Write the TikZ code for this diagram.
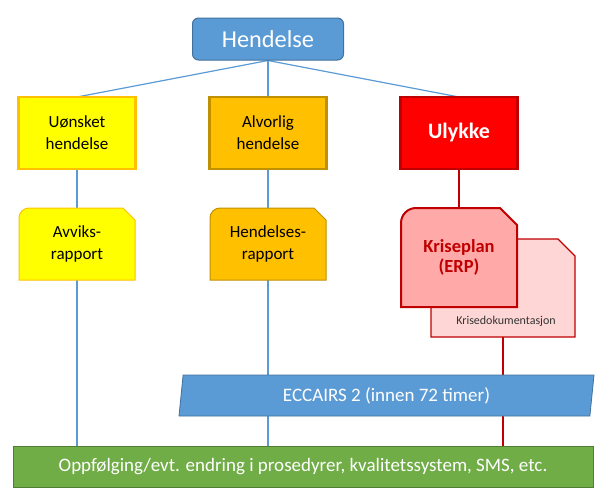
\documentclass[tikz,border=0pt]{standalone}
\usepackage{fontspec}
\setmainfont{Carlito}
\usetikzlibrary{calc,shapes.geometric}
\definecolor{hblue}{HTML}{5B9BD5}
\definecolor{hbluedark}{HTML}{41719C}
\definecolor{gul}{HTML}{FFFF00}
\definecolor{oransje}{HTML}{FFC000}
\definecolor{gull}{HTML}{BF9000}
\definecolor{rod}{HTML}{FF0000}
\definecolor{mork}{HTML}{C00000}
\definecolor{rosa}{HTML}{FFA9A9}
\definecolor{lysrosa}{HTML}{FFD6D6}
\definecolor{gronn}{HTML}{70AD47}
\definecolor{gronnmork}{HTML}{507E32}
\pgfdeclarelayer{bg}
\pgfdeclarelayer{shapes}
\pgfsetlayers{bg,shapes,main}
\def\docshape[#1](#2)(#3:#4){\draw[#1] ([yshift=-#3pt]#2.north west) arc (180:90:#3pt) -- ([xshift=-#4pt]#2.north east) -- ([yshift=-#4pt]#2.north east) -- (#2.south east) -- (#2.south west) -- cycle;}
\tikzset{
  box/.style={rectangle, minimum width=117pt, minimum height=72pt, align=center, inner sep=0pt, outer sep=0pt, font=\fontsize{17}{22}\selectfont},
  doc/.style={rectangle, minimum width=116pt, minimum height=72pt, align=center, inner sep=0pt, outer sep=0pt, font=\fontsize{17}{22}\selectfont},
  link/.style={line width=1.2pt, color=hblue},
  redlink/.style={line width=2.4pt, color=mork},
}

\begin{document}
\begin{tikzpicture}[x=1pt,y=1pt]
			\useasboundingbox (0,0) rectangle (603,-496);
			%%%%% START %%%%%
			
			\node[rectangle, rounded corners=6pt, fill=hblue, draw=hbluedark, line width=1pt, minimum width=151pt, minimum height=42pt, inner sep=0pt, text=white, font=\fontsize{24.3}{29}\selectfont] (hendelse) at (268,-39) {Hendelse};
			
			\node[box, fill=gul, draw=oransje, line width=2.5pt] (uonsket) at (77,-133) {Uønsket\\hendelse};
			\node[box, fill=oransje, draw=gull, line width=2.5pt] (alvorlig) at (268,-133) {Alvorlig\\hendelse};
			\node[box, fill=rod, draw=mork, line width=2.5pt, text=white, font=\fontsize{22}{26}\selectfont\bfseries] (ulykke) at (459,-133) {Ulykke};
			
			\node[doc] (avviks) at (77,-244) {Avviks-\\rapport};
			\node[doc] (hendelses) at (268,-244) {Hendelses-\\rapport};
			\node[doc, minimum width=144pt, minimum height=98pt, label={[font=\fontsize{12}{14}\selectfont, text=black!80, anchor=center, xshift=3pt, yshift=16pt]south:Krisedokumentasjon}] (krisedok) at (503,-288) {};
			\node[doc, minimum height=99pt, text=mork, font=\fontsize{18.5}{23}\selectfont\bfseries] (kriseplan) at (459,-257.5) {\raisebox{-2.5pt}{\shortstack{Kriseplan\\[1pt](ERP)}}};
			
			\node[trapezium, trapezium left angle=76, trapezium right angle=104, trapezium stretches body, minimum width=415pt, minimum height=41pt, inner sep=0pt, fill=hblue, draw=hbluedark, line width=0.8pt, text=white, font=\fontsize{19}{23}\selectfont] (eccairs) at (386.5,-395.5) {ECCAIRS 2 (innen 72 timer)};
			
			\node[rectangle, minimum width=580pt, minimum height=41pt, inner sep=0pt, fill=gronn, draw=gronnmork, line width=0.8pt, text=white, font=\fontsize{19}{23}\selectfont] (oppf) at (303,-466.5) {Oppfølging/evt. endring i prosedyrer, kvalitetssystem, SMS, etc.};
			
			\begin{pgfonlayer}{shapes}
			\docshape[fill=gul, draw=oransje, line width=1pt](avviks)(10:12)
			\docshape[fill=oransje, draw=gull, line width=1pt](hendelses)(10:12)
			\docshape[fill=lysrosa, draw=mork, line width=1.2pt](krisedok)(2:17)
			\docshape[fill=rosa, draw=mork, line width=2pt](kriseplan)(15:17)
			\end{pgfonlayer}
			
			\begin{pgfonlayer}{bg}
			\draw[link] (hendelse.south) -- (uonsket.north);
			\draw[link] (hendelse.south) -- (alvorlig.north);
			\draw[link] (hendelse.south) -- (ulykke.north);
			\draw[link] (uonsket.south) -- (uonsket.south |- oppf.north);
			\draw[link] (alvorlig.south) -- (alvorlig.south |- oppf.north);
			\draw[redlink] (ulykke.south) -- (kriseplan.north);
			\draw[redlink] (krisedok.south) -- (krisedok.south |- oppf.north);
			\end{pgfonlayer}
			
			%%%%% END %%%%%
\end{tikzpicture}
\end{document}
